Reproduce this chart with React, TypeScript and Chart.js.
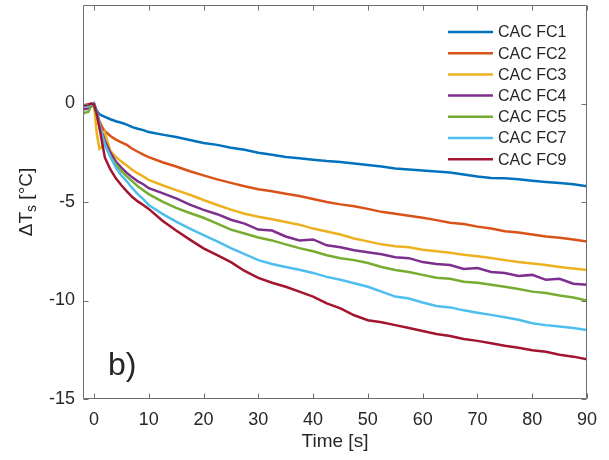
import React, { useEffect, useRef } from "react";
import { Chart, registerables } from "chart.js";

Chart.register(...registerables);

const times = [-2, -1, -0.5, 0, 0.5, 1, 1.5, 2, 3, 4, 5, 6, 7, 8, 9,
  10, 12.5, 15, 17.5, 20, 22.5, 25, 27.5, 30, 32.5, 35, 37.5, 40, 42.5, 45, 47.5, 50,
  52.5, 55, 57.5, 60, 62.5, 65, 67.5, 70, 72.5, 75, 77.5, 80, 82.5, 85, 87.5, 90];

const seriesNames = ["CAC FC1", "CAC FC2", "CAC FC3", "CAC FC4", "CAC FC5", "CAC FC7", "CAC FC9"];

const fc1 = [-0.15, -0.1, -0.05, 0, -0.35, -0.55, -0.62, -0.68, -0.8, -0.9, -0.98, -1.07, -1.2, -1.28, -1.35,
  -1.45, -1.58, -1.7, -1.85, -2.0, -2.1, -2.25, -2.35, -2.5, -2.6, -2.72, -2.78, -2.85, -2.92, -2.97, -3.05, -3.12,
  -3.2, -3.3, -3.35, -3.4, -3.45, -3.5, -3.6, -3.7, -3.78, -3.8, -3.85, -3.92, -3.98, -4.03, -4.1, -4.2];
const fc2 = [-0.1, -0.05, -0.02, 0, -0.4, -0.9, -1.2, -1.4, -1.65, -1.83, -1.97, -2.1, -2.3, -2.45, -2.6,
  -2.72, -2.98, -3.2, -3.44, -3.65, -3.85, -4.03, -4.2, -4.35, -4.45, -4.58, -4.7, -4.85, -5.0, -5.12, -5.22, -5.35,
  -5.5, -5.6, -5.7, -5.8, -5.92, -6.05, -6.12, -6.25, -6.35, -6.48, -6.55, -6.65, -6.75, -6.82, -6.9, -7.0];
const fc3 = [-0.2, -0.1, -0.05, 0, -1.5, -2.3, -2.2, -1.5, -2.4, -2.72, -2.95, -3.15, -3.38, -3.55, -3.7,
  -3.88, -4.15, -4.4, -4.63, -4.9, -5.15, -5.39, -5.6, -5.75, -5.88, -6.02, -6.15, -6.35, -6.5, -6.65, -6.85, -7.0,
  -7.15, -7.25, -7.3, -7.42, -7.5, -7.58, -7.68, -7.75, -7.84, -7.95, -8.05, -8.12, -8.2, -8.3, -8.38, -8.45];
const fc4 = [-0.3, -0.25, -0.15, 0, -0.5, -1.1, -1.5, -1.9, -2.5, -2.95, -3.25, -3.52, -3.75, -3.95, -4.1,
  -4.3, -4.55, -4.82, -5.13, -5.4, -5.62, -5.9, -6.1, -6.4, -6.45, -6.75, -6.95, -6.9, -7.2, -7.3, -7.45, -7.55,
  -7.65, -7.8, -7.85, -8.05, -8.15, -8.2, -8.4, -8.35, -8.55, -8.6, -8.75, -8.7, -8.95, -8.9, -9.15, -9.2];
const fc5 = [-0.5, -0.42, -0.05, -0.15, -0.6, -1.2, -1.7, -2.1, -2.7, -3.1, -3.42, -3.7, -3.95, -4.2, -4.4,
  -4.6, -4.98, -5.3, -5.56, -5.8, -6.1, -6.4, -6.6, -6.8, -6.95, -7.15, -7.34, -7.5, -7.7, -7.85, -7.95, -8.1,
  -8.3, -8.45, -8.55, -8.7, -8.85, -8.9, -9.05, -9.1, -9.2, -9.3, -9.42, -9.55, -9.62, -9.75, -9.85, -10.0];
const fc7 = [-0.15, -0.1, -0.05, 0, -0.4, -1.0, -1.6, -2.1, -2.7, -3.25, -3.65, -3.95, -4.3, -4.6, -4.85,
  -5.15, -5.6, -6.0, -6.35, -6.68, -7.0, -7.34, -7.65, -7.95, -8.15, -8.3, -8.44, -8.6, -8.8, -8.95, -9.12, -9.3,
  -9.55, -9.8, -9.9, -10.1, -10.28, -10.35, -10.5, -10.62, -10.73, -10.85, -10.98, -11.15, -11.25, -11.32, -11.4, -11.5];
const fc9 = [-0.1, -0.05, 0, -0.05, -0.5, -1.22, -2.0, -2.75, -3.35, -3.8, -4.15, -4.46, -4.75, -4.97, -5.15,
  -5.35, -5.95, -6.45, -6.91, -7.35, -7.7, -8.05, -8.5, -8.85, -9.1, -9.3, -9.55, -9.8, -10.15, -10.4, -10.75, -11.0,
  -11.1, -11.25, -11.4, -11.55, -11.7, -11.8, -11.95, -12.05, -12.17, -12.3, -12.4, -12.52, -12.6, -12.75, -12.85, -12.98];

const seriesValues = [fc1, fc2, fc3, fc4, fc5, fc7, fc9];
const colors = ["#0072BD", "#D95319", "#EDB120", "#7E2F8E", "#77AC30", "#4DBEEE", "#A2142F"];

const xTicks = [0, 10, 20, 30, 40, 50, 60, 70, 80, 90];
const yTicks = [-15, -10, -5, 0];
const xLabel = "Time [s]";
const yLabelMain = "\u0394T";
const yLabelSub = "s";
const yLabelUnit = " [\u00B0C]";
const panelLabel = "b)";

const FONT = '"Liberation Sans", Arial, Helvetica, sans-serif';
const TEXT = "#262626";
const AXIS = "#6e6e6e";

const framePlugin = {
  id: "matlabFrame",
  afterDatasetsDraw(chart: any) {
    const { ctx, chartArea, scales } = chart;
    const { left, right, top, bottom } = chartArea;
    ctx.save();
    ctx.strokeStyle = AXIS;
    ctx.lineWidth = 1;
    const L = Math.round(left) + 0.5;
    const R = Math.round(right) - 0.5;
    const T = Math.round(top) + 0.5;
    const B = Math.round(bottom) - 0.5;
    ctx.beginPath();
    ctx.rect(L, T, R - L, B - T);
    ctx.stroke();
    const tl = 5;
    ctx.beginPath();
    xTicks.forEach((v) => {
      const px = Math.round(scales.x.getPixelForValue(v)) + 0.5;
      ctx.moveTo(px, B);
      ctx.lineTo(px, B - tl);
      ctx.moveTo(px, T);
      ctx.lineTo(px, T + tl);
    });
    yTicks.forEach((v) => {
      const py = Math.round(scales.y.getPixelForValue(v)) + 0.5;
      ctx.moveTo(L, py);
      ctx.lineTo(L + tl, py);
      ctx.moveTo(R, py);
      ctx.lineTo(R - tl, py);
    });
    ctx.stroke();
    ctx.restore();
  },
  afterDraw(chart: any) {
    const { ctx, chartArea } = chart;
    const { left, right, top, bottom } = chartArea;
    ctx.save();
    ctx.fillStyle = TEXT;

    // legend
    ctx.font = `16px ${FONT}`;
    ctx.textBaseline = "middle";
    ctx.textAlign = "left";
    seriesNames.forEach((name, i) => {
      const cy = top + 27 + i * 21.2;
      ctx.strokeStyle = colors[i];
      ctx.lineWidth = 2.5;
      ctx.beginPath();
      ctx.moveTo(right - 139, cy);
      ctx.lineTo(right - 94, cy);
      ctx.stroke();
      ctx.fillStyle = TEXT;
      ctx.fillText(name, right - 89, cy + 1);
    });

    // panel label
    ctx.font = `32px ${FONT}`;
    ctx.textBaseline = "alphabetic";
    ctx.fillText(panelLabel, left + 25, bottom - 24);

    // x title
    ctx.font = `19px ${FONT}`;
    ctx.textAlign = "center";
    ctx.textBaseline = "middle";
    ctx.fillText(xLabel, (left + right) / 2, 442);

    // y title with subscript
    const mainFont = `19px ${FONT}`;
    const subFont = `14px ${FONT}`;
    ctx.font = mainFont;
    const w1 = ctx.measureText(yLabelMain).width;
    const w3 = ctx.measureText(yLabelUnit).width;
    ctx.font = subFont;
    const w2 = ctx.measureText(yLabelSub).width;
    const total = w1 + w2 + w3;
    ctx.translate(25, (top + bottom) / 2);
    ctx.rotate(-Math.PI / 2);
    ctx.textAlign = "left";
    ctx.textBaseline = "alphabetic";
    let x0 = -total / 2;
    const base = 7;
    ctx.font = mainFont;
    ctx.fillText(yLabelMain, x0, base);
    x0 += w1;
    ctx.font = subFont;
    ctx.fillText(yLabelSub, x0, base + 4);
    x0 += w2;
    ctx.font = mainFont;
    ctx.fillText(yLabelUnit, x0, base);
    ctx.restore();
  },
};

export default function App() {
  const canvasRef = useRef<HTMLCanvasElement | null>(null);

  useEffect(() => {
    if (!canvasRef.current) return;
    const datasets = seriesNames.map((name, i) => ({
      label: name,
      data: times.map((t, j) => ({ x: t, y: seriesValues[i][j] })),
      borderColor: colors[i],
      backgroundColor: colors[i],
      borderWidth: 2.5,
      pointRadius: 0,
      tension: 0,
      fill: false,
      order: seriesNames.length - i,
    }));
    const chart = new Chart(canvasRef.current, {
      type: "line",
      data: { datasets },
      options: {
        animation: false,
        responsive: false,
        maintainAspectRatio: false,
        layout: { padding: { top: 5, right: 22, left: 0, bottom: 0 } },
        plugins: { legend: { display: false }, tooltip: { enabled: false } },
        scales: {
          x: {
            type: "linear",
            min: -2,
            max: 90,
            grid: { display: false, drawTicks: false },
            border: { display: false },
            ticks: { font: { size: 18, family: FONT }, color: TEXT, padding: 10, maxRotation: 0, autoSkip: false },
            afterBuildTicks: (ax: any) => { ax.ticks = xTicks.map((v) => ({ value: v })); },
            afterFit: (ax: any) => { ax.height = 61; ax.paddingLeft = 0; ax.paddingRight = 0; },
          },
          y: {
            type: "linear",
            min: -15,
            max: 5,
            grid: { display: false, drawTicks: false },
            border: { display: false },
            ticks: { font: { size: 18, family: FONT }, color: TEXT, padding: 8, autoSkip: false },
            afterBuildTicks: (ax: any) => { ax.ticks = yTicks.map((v) => ({ value: v })); },
            afterFit: (ax: any) => { ax.width = 83; ax.paddingTop = 0; ax.paddingBottom = 0; },
          },
        },
      } as any,
      plugins: [framePlugin],
    });
    return () => chart.destroy();
  }, []);

  return (
    <div style={{ position: "absolute", left: 0, top: 0, width: 609, height: 460, background: "#fff" }}>
      <canvas ref={canvasRef} width={609} height={460} style={{ display: "block" }} />
    </div>
  );
}
